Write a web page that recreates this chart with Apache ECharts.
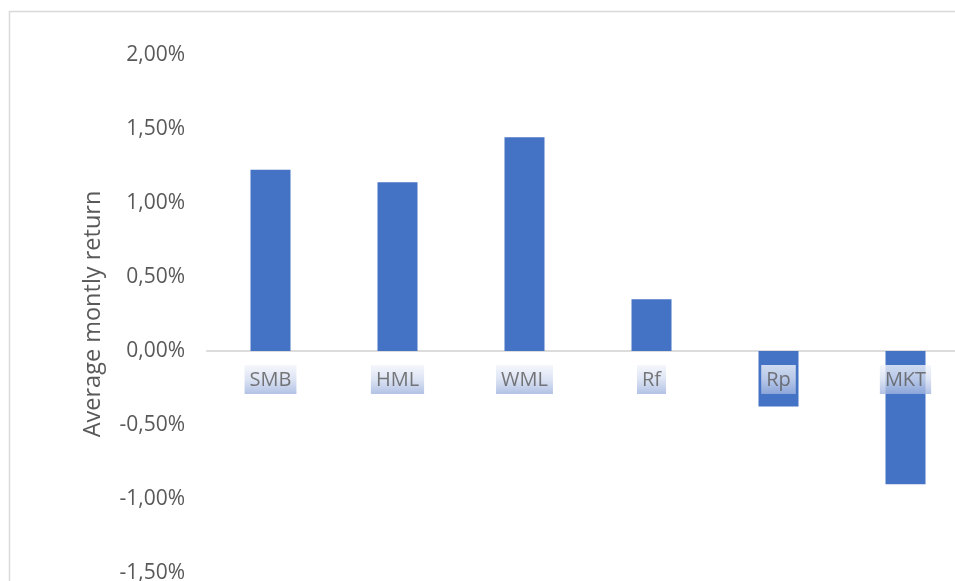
<!DOCTYPE html>
<html><head><meta charset="utf-8">
<script src="https://cdn.jsdelivr.net/npm/echarts@6/dist/echarts.min.js"></script>
<style>html,body{margin:0;padding:0;background:#fff}#c{width:955px;height:581px}</style>
</head><body><div id="c"></div>
<script>
const categories = ['SMB', 'HML', 'WML', 'Rf', 'Rp', 'MKT'];
const returnsPct = [1.225, 1.14, 1.445, 0.35, -0.375, -0.90];
const labelAnchors = [0, 0, 0, 0, 0, 0];
const yMin = -1.5, yMax = 2.0, yStep = 0.5;
const yAxisTitle = 'Average montly return';

const chart = echarts.init(document.getElementById('c'), null, {renderer: 'canvas'});
const labelBg = new echarts.graphic.LinearGradient(0, 0, 0, 1, [
  {offset: 0, color: '#f2f5fb'},
  {offset: 0.5, color: '#d3dcf0'},
  {offset: 1, color: '#9fb3df'}
]);
chart.setOption({
  animation: false,
  backgroundColor: '#fff',
  textStyle: {fontFamily: 'Open Sans'},
  graphic: [{
    type: 'rect', shape: {x: 9.5, y: 11.5, width: 1000, height: 1000},
    style: {fill: 'none', stroke: '#d9d9d9', lineWidth: 1.5}, silent: true, z: -1
  }],
  grid: {left: 207, top: 55, width: 762, height: 518, containLabel: false, outerBoundsMode: 'none'},
  xAxis: {
    type: 'category', data: categories,
    axisLine: {onZero: true, lineStyle: {color: '#dcdcdc', width: 2}},
    axisTick: {show: false},
    axisLabel: {show: false}
  },
  yAxis: {
    type: 'value', min: yMin, max: yMax, interval: yStep,
    name: yAxisTitle, nameLocation: 'middle', nameGap: 102,
    nameTextStyle: {color: '#595959', fontSize: 23.5, fontFamily: 'Open Sans'},
    axisLine: {show: false}, axisTick: {show: false}, splitLine: {show: false},
    axisLabel: {
      color: '#595959', fontSize: 21, fontFamily: 'Open Sans', margin: 22,
      formatter: v => v.toFixed(2).replace('.', ',') + '%'
    }
  },
  series: [{
    type: 'bar', data: returnsPct, barWidth: 40,
    itemStyle: {color: '#4472c4'}
  }, {
    type: 'scatter', data: labelAnchors, symbolSize: 0, z: 10, silent: true,
    label: {
      show: true, position: 'bottom', distance: 14,
      formatter: p => categories[p.dataIndex],
      color: '#595959', fontSize: 20, fontFamily: 'Open Sans',
      backgroundColor: labelBg, padding: [5, 5, 4, 5]
    }
  }]
});
</script></body></html>
